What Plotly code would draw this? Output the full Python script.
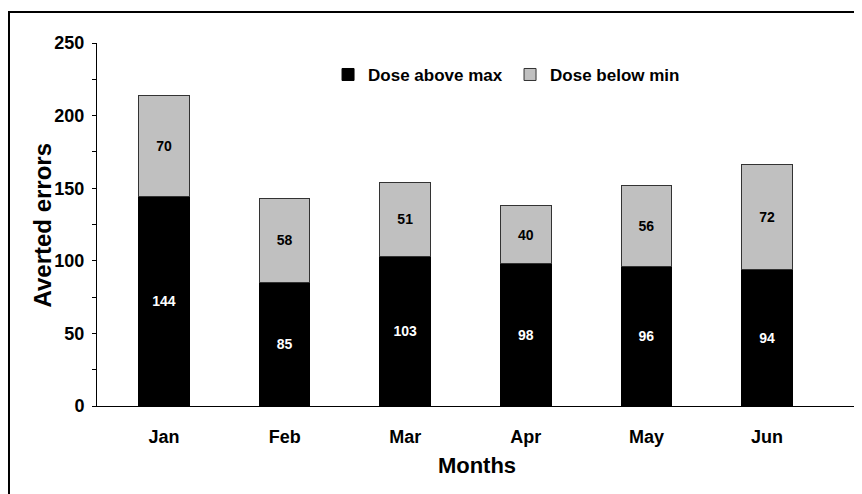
import plotly.graph_objects as go

months = ["Jan", "Feb", "Mar", "Apr", "May", "Jun"]
above_max = [144, 85, 103, 98, 96, 94]
below_min = [70, 58, 51, 40, 56, 72]

FONT = "Arial, 'Liberation Sans', sans-serif"

fig = go.Figure()
fig.add_trace(go.Bar(
    x=months, y=above_max, name="Dose above max",
    marker=dict(color="black", line=dict(color="black", width=1)),
    text=[str(v) for v in above_max], textposition="inside",
    insidetextanchor="middle",
    textfont=dict(color="white", size=14, family=FONT, weight="bold"),
    width=0.42,
))
fig.add_trace(go.Bar(
    x=months, y=below_min, name="Dose below min",
    marker=dict(color="#C0C0C0", line=dict(color="#333333", width=1)),
    text=[str(v) for v in below_min], textposition="inside",
    insidetextanchor="middle",
    textfont=dict(color="black", size=14, family=FONT, weight="bold"),
    width=0.42,
))

fig.update_layout(
    barmode="stack",
    width=862, height=494,
    margin=dict(l=89, r=13, t=35, b=96),
    paper_bgcolor="white", plot_bgcolor="white",
    font=dict(family=FONT, color="black"),
    uniformtext=dict(mode=False),
    showlegend=True,
    legend=dict(
        orientation="h", x=0.304, y=0.912, xanchor="left", yanchor="middle",
        font=dict(size=17, family=FONT, weight="bold"),
        bgcolor="rgba(0,0,0,0)", itemwidth=30, traceorder="normal",
        entrywidth=137, entrywidthmode="pixels",
    ),
    xaxis=dict(
        range=[-0.556, 5.746], showline=True, linecolor="black", linewidth=1,
        ticks="", showgrid=False, zeroline=False, ticklabelstandoff=14,
        tickfont=dict(size=18, family=FONT, weight="bold"),
        title=dict(text="Months", font=dict(size=22, family=FONT, weight="bold"), standoff=12),
    ),
    yaxis=dict(
        range=[0, 250], dtick=50, showline=True, linecolor="black", linewidth=1,
        ticks="outside", ticklen=4, tickcolor="black", tickwidth=1,
        minor=dict(dtick=25, ticks="outside", ticklen=4, tickcolor="black", tickwidth=1, showgrid=False),
        showgrid=False, zeroline=False, ticklabelstandoff=4,
        tickfont=dict(size=18, family=FONT, weight="bold"),
    ),
    annotations=[dict(
        text="Averted errors", xref="paper", yref="paper",
        x=-0.0711, y=0.5, xanchor="center", yanchor="middle",
        textangle=-90, showarrow=False,
        font=dict(size=24, family=FONT, weight="bold", color="black"),
    )],
    shapes=[dict(
        type="rect", xref="paper", yref="paper",
        x0=-0.1158, x1=1.05, y0=-0.3, y1=1.0854,
        line=dict(color="black", width=2), fillcolor="rgba(0,0,0,0)",
    )],
)

fig.write_html("out.html")
